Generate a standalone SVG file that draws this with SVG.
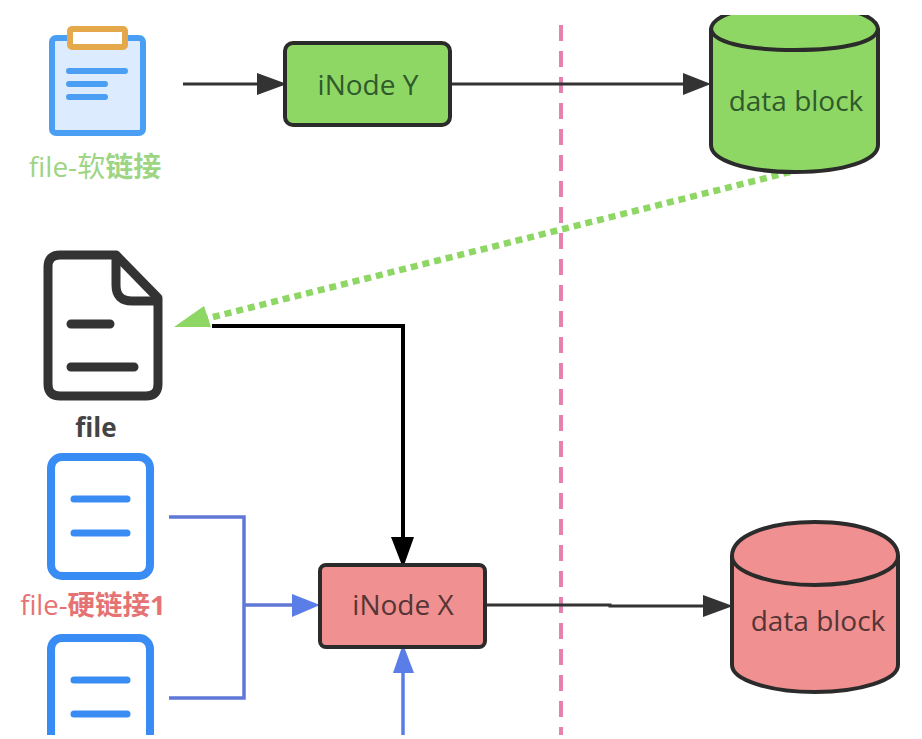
<svg xmlns="http://www.w3.org/2000/svg" width="922" height="739" viewBox="0 0 922 739">
<style>
text{font-family:"Open Sans","Noto Sans","Noto Sans CJK SC",sans-serif}
.lbl{font-size:28px;text-anchor:middle}
.g{fill:#8fd765}.r{fill:#f09090}
.ol{stroke:#2b2b2b;stroke-width:4}
.conn{fill:none;stroke:#333;stroke-width:3}
.ic{fill:none;stroke:#3a8cf5;stroke-width:8;stroke-linecap:round;stroke-linejoin:round}
.bar{fill:none;stroke:#3a8cf5;stroke-width:7;stroke-linecap:round}
</style>
<defs>
<clipPath id="top"><rect x="0" y="15" width="922" height="724"/></clipPath>
<clipPath id="bot"><rect x="0" y="0" width="922" height="735"/></clipPath>
</defs>
<rect width="922" height="739" fill="#fff"/>
<line x1="561" y1="25" x2="561" y2="735" stroke="#e681ad" stroke-width="4" stroke-dasharray="16 10"/>
<g id="connectors">
<path class="conn" d="M183 84H260"/><polygon points="257,73 287,84 257,95" fill="#333"/>
<path class="conn" d="M451 84H684"/><polygon points="683,73 711,84 683,95" fill="#333"/>
<path d="M790 172L205 319" fill="none" stroke="#8fd765" stroke-width="6.5" stroke-dasharray="7 5"/>
<path d="M212 326H403V540" fill="none" stroke="#000" stroke-width="4"/>
<polygon points="391,537 414,537 403,568" fill="#000"/>
<polygon points="174,327 204,306 211,327" fill="#8fd765"/>
<path d="M169 517H244V698H169M244 605H296" fill="none" stroke="#5f78d8" stroke-width="3.5"/>
<polygon points="292,594 320,605 292,617" fill="#5a7de8"/>
<path d="M403 672V735" fill="none" stroke="#5a7de8" stroke-width="3.5"/>
<polygon points="393,673 414,673 403,644" fill="#5a7de8"/>
<path class="conn" d="M487 605H610V606H705"/><polygon points="703,595 733,606 703,617" fill="#333"/>
</g>
<g id="file-soft">
<rect x="52" y="38" width="91" height="95" rx="4" fill="#dcebfd" stroke="#4a9ff5" stroke-width="6"/>
<rect x="70" y="29" width="55" height="18" rx="2" fill="#fff" stroke="#e5a84a" stroke-width="6"/>
<path d="M69 71H125M69 84H105M69 97H105" fill="none" stroke="#4a9ff5" stroke-width="6" stroke-linecap="round"/>
<text x="95" y="177" font-size="28" fill="#9ed585" text-anchor="middle">file-软<tspan font-weight="700">链接</tspan></text>
</g>
<g id="inode-y">
<rect x="285" y="43" width="165" height="82" rx="8" class="g ol"/>
<text x="368" y="95" class="lbl" fill="#2f5a2c">iNode Y</text>
</g>
<g id="data-y" clip-path="url(#top)">
<path d="M711 30V145C711 160 745 172 795 172S878 160 878 145V30C878 15 845 5 795 5S711 15 711 30Z" class="g ol"/>
<path d="M711 28C711 42 745 50 795 50S878 42 878 28" fill="none" class="ol"/>
<text x="796" y="111" class="lbl" fill="#2f5a2c">data block</text>
</g>
<g id="file-main">
<path d="M116 255H60Q48 255 48 267V384Q48 396 60 396H146Q158 396 158 384V298Z" fill="#fff" stroke="#333" stroke-width="9" stroke-linejoin="round"/>
<path d="M116 258V285Q116 301 132 301H156" fill="none" stroke="#333" stroke-width="9"/>
<path d="M71 324H110M71 367H134" fill="none" stroke="#333" stroke-width="9" stroke-linecap="round"/>
<text x="96" y="437" font-size="26" font-weight="700" fill="#444" text-anchor="middle">file</text>
</g>
<g id="file-hard1">
<rect x="51" y="457" width="99" height="119" rx="11" class="ic"/>
<path class="bar" d="M74 499H127M74 533H127"/>
<text x="93" y="615" font-size="27.5" fill="#e57373" text-anchor="middle">file-<tspan font-weight="700">硬链接1</tspan></text>
</g>
<g id="file-hard2" clip-path="url(#bot)">
<rect x="51" y="638" width="99" height="119" rx="11" class="ic"/>
<path class="bar" d="M74 680H127M74 714H127"/>
</g>
<g id="inode-x">
<rect x="320" y="565" width="165" height="82" rx="6" class="r ol"/>
<text x="403" y="615" class="lbl" fill="#553535">iNode X</text>
</g>
<g id="data-x">
<path d="M732 556V665C732 680 770 692 815 692S898 680 898 665V556C898 535 860 522 815 522S732 535 732 556Z" class="r ol"/>
<path d="M732 556C732 572 770 585 815 585S898 572 898 556" fill="none" class="ol"/>
<text x="818" y="631" class="lbl" fill="#553535">data block</text>
</g>
</svg>
